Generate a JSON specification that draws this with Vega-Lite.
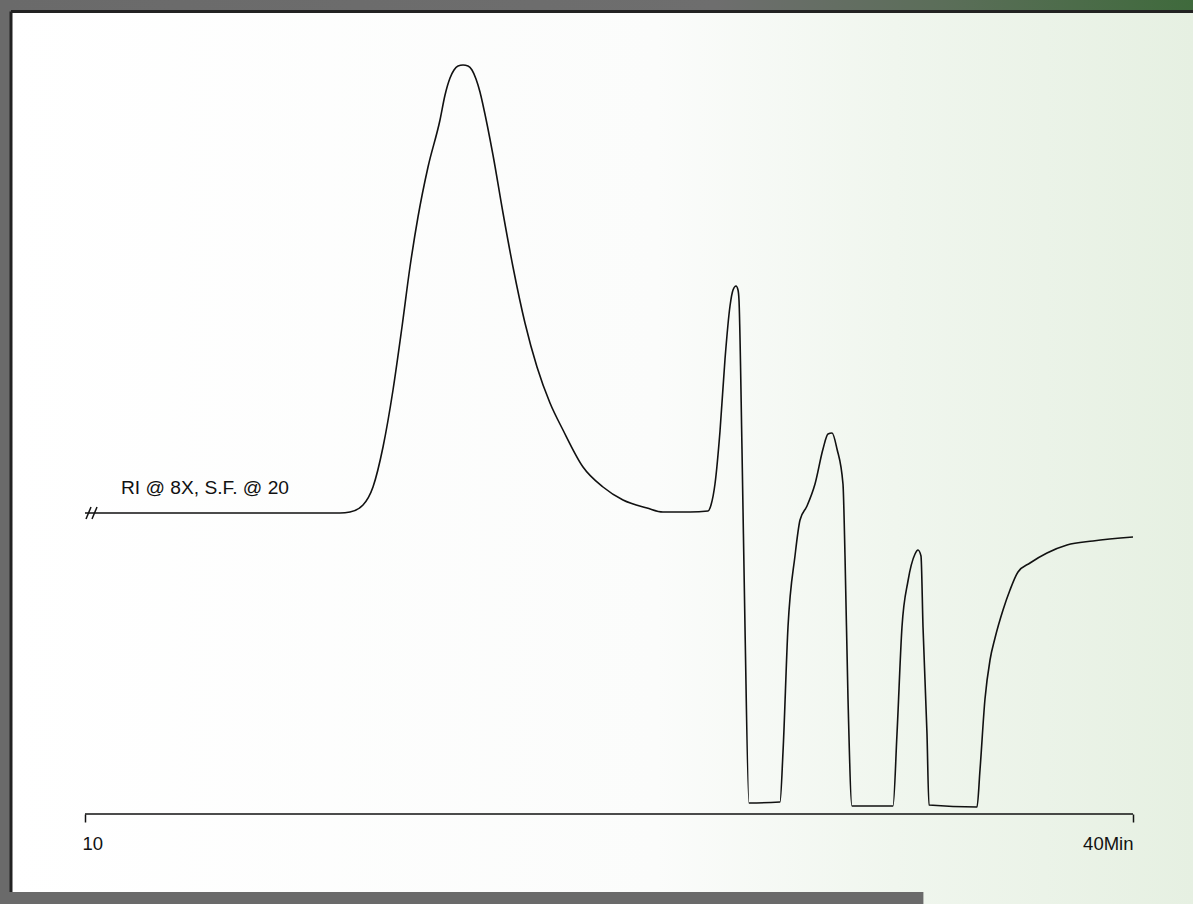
{
  "$schema": "https://vega.github.io/schema/vega-lite/v6.json",
  "width": 1193,
  "height": 904,
  "autosize": {"type": "none"},
  "padding": 0,
  "background": "#ffffff",
  "config": {"view": {"stroke": null}},
  "datasets": {
    "trace": [
      {"x": 10.000, "y": 301}, {"x": 13.292, "y": 301}, {"x": 16.155, "y": 301}, {"x": 17.300, "y": 301},
      {"x": 17.586, "y": 302}, {"x": 17.958, "y": 309}, {"x": 18.244, "y": 327}, {"x": 18.531, "y": 367},
      {"x": 18.817, "y": 424}, {"x": 19.074, "y": 487}, {"x": 19.303, "y": 547}, {"x": 19.532, "y": 597},
      {"x": 19.819, "y": 647}, {"x": 20.162, "y": 694}, {"x": 20.306, "y": 719}, {"x": 20.449, "y": 736},
      {"x": 20.563, "y": 744}, {"x": 20.678, "y": 748}, {"x": 20.821, "y": 749}, {"x": 20.964, "y": 748},
      {"x": 21.078, "y": 744}, {"x": 21.193, "y": 735}, {"x": 21.307, "y": 722}, {"x": 21.393, "y": 709},
      {"x": 21.679, "y": 659}, {"x": 21.966, "y": 601}, {"x": 22.252, "y": 547}, {"x": 22.595, "y": 491},
      {"x": 22.939, "y": 447}, {"x": 23.311, "y": 411}, {"x": 23.683, "y": 384}, {"x": 24.256, "y": 347},
      {"x": 24.828, "y": 327}, {"x": 25.401, "y": 314}, {"x": 26.088, "y": 306}, {"x": 26.546, "y": 302},
      {"x": 27.319, "y": 302},
      {"x": 27.834, "y": 303}, {"x": 27.920, "y": 309}, {"x": 28.034, "y": 330}, {"x": 28.178, "y": 383},
      {"x": 28.321, "y": 455}, {"x": 28.464, "y": 508}, {"x": 28.550, "y": 524}, {"x": 28.636, "y": 528},
      {"x": 28.693, "y": 524}, {"x": 28.721, "y": 514}, {"x": 28.807, "y": 365}, {"x": 28.893, "y": 187},
      {"x": 29.008, "y": 11}, {"x": 29.895, "y": 12}, {"x": 29.981, "y": 62}, {"x": 30.124, "y": 187},
      {"x": 30.324, "y": 258}, {"x": 30.468, "y": 294}, {"x": 30.668, "y": 308}, {"x": 30.897, "y": 330},
      {"x": 31.126, "y": 365}, {"x": 31.269, "y": 380}, {"x": 31.384, "y": 381}, {"x": 31.527, "y": 365},
      {"x": 31.698, "y": 330}, {"x": 31.756, "y": 258}, {"x": 31.842, "y": 115}, {"x": 31.956, "y": 8},
      {"x": 33.130, "y": 8}, {"x": 33.244, "y": 80}, {"x": 33.387, "y": 187}, {"x": 33.559, "y": 233},
      {"x": 33.760, "y": 260}, {"x": 33.845, "y": 264}, {"x": 33.931, "y": 258}, {"x": 33.989, "y": 187},
      {"x": 34.103, "y": 80}, {"x": 34.160, "y": 9}, {"x": 35.534, "y": 7}, {"x": 35.620, "y": 44},
      {"x": 35.763, "y": 115}, {"x": 35.907, "y": 154}, {"x": 36.050, "y": 176}, {"x": 36.279, "y": 204},
      {"x": 36.479, "y": 224}, {"x": 36.708, "y": 242}, {"x": 37.052, "y": 251}, {"x": 37.538, "y": 261},
      {"x": 38.111, "y": 269}, {"x": 38.855, "y": 273}, {"x": 40.000, "y": 277}
    ]
  },
  "encoding": {
    "x": {
      "field": "x", "type": "quantitative",
      "scale": {"domain": [7.5668, 41.7176], "nice": false, "zero": false},
      "axis": {
        "orient": "bottom", "offset": -90, "values": [10, 40], "domain": false, "grid": false, "title": null,
        "zindex": 2,
        "ticks": true, "tickSize": 8, "tickWidth": 1.5, "tickColor": "#111111",
        "labelExpr": "datum.value == 40 ? '40Min' : '10'",
        "labelAlign": {"expr": "datum.value == 40 ? 'right' : 'left'"},
        "labelOffset": {"expr": "datum.value == 40 ? 0 : -3"},
        "labelBaseline": "alphabetic",
        "labelFont": "Liberation Sans", "labelFontSize": 18.5, "labelColor": "#111111", "labelPadding": 27,
        "labelFlush": false, "labelOverlap": false
      }
    },
    "y": {"field": "y", "type": "quantitative", "scale": {"domain": [-90, 814], "nice": false, "zero": false}, "axis": null}
  },
  "layer": [
    {
      "data": {"values": [{"x": 7.5668, "x2": 41.7176, "y": -90, "y2": 814}]},
      "mark": {
        "type": "rect",
        "color": {
          "gradient": "linear", "x1": 0, "y1": 0, "x2": 1, "y2": 0,
          "stops": [
            {"offset": 0, "color": "#ffffff"},
            {"offset": 0.55, "color": "#fbfcfb"},
            {"offset": 0.75, "color": "#f0f6ee"},
            {"offset": 1, "color": "#e6f0e2"}
          ]
        }
      },
      "encoding": {"x2": {"field": "x2"}, "y2": {"field": "y2"}}
    },
    {
      "data": {"values": [{"x": 7.5668, "x2": 41.7176, "y": 802, "y2": 814}]},
      "mark": {
        "type": "rect",
        "color": {
          "gradient": "linear", "x1": 0, "y1": 0, "x2": 1, "y2": 0,
          "stops": [
            {"offset": 0, "color": "#6a6a6a"},
            {"offset": 0.6, "color": "#6e6e6e"},
            {"offset": 0.8, "color": "#5a6e58"},
            {"offset": 1, "color": "#3f6a3c"}
          ]
        }
      },
      "encoding": {"x2": {"field": "x2"}, "y2": {"field": "y2"}}
    },
    {
      "data": {"values": [
        {"x": 7.7386, "x2": 7.7386, "y": -90, "y2": 814},
        {"x": 7.5668, "x2": 34.0, "y": -84, "y2": -84}
      ]},
      "mark": {"type": "rule", "strokeWidth": 12, "color": "#6a6a6a"},
      "encoding": {"x2": {"field": "x2"}, "y2": {"field": "y2"}}
    },
    {
      "data": {"values": [
        {"x": 7.8816, "x2": 41.7176, "y": 802.5, "y2": 802.5},
        {"x": 7.8816, "x2": 7.8816, "y": -78, "y2": 802.5}
      ]},
      "mark": {"type": "rule", "strokeWidth": 3, "color": "#222222"},
      "encoding": {"x2": {"field": "x2"}, "y2": {"field": "y2"}}
    },
    {
      "data": {"values": [
        {"x": 10, "x2": 40, "y": 0, "y2": 0},
        {"x": 10.029, "x2": 10.172, "y": 295, "y2": 307},
        {"x": 10.200, "x2": 10.344, "y": 295, "y2": 307}
      ]},
      "mark": {"type": "rule", "strokeWidth": 1.5, "color": "#111111"},
      "encoding": {"x2": {"field": "x2"}, "y2": {"field": "y2"}}
    },
    {
      "data": {"values": [{"x": 11.03, "y": 320, "label": "RI @ 8X, S.F. @ 20"}]},
      "mark": {"type": "text", "align": "left", "baseline": "alphabetic", "font": "Liberation Sans", "fontSize": 19.2, "color": "#111111"},
      "encoding": {"text": {"field": "label"}}
    },
    {
      "data": {"name": "trace"},
      "mark": {"type": "line", "interpolate": "monotone", "strokeWidth": 1.6, "color": "#111111"},
      "encoding": {}
    }
  ]
}
